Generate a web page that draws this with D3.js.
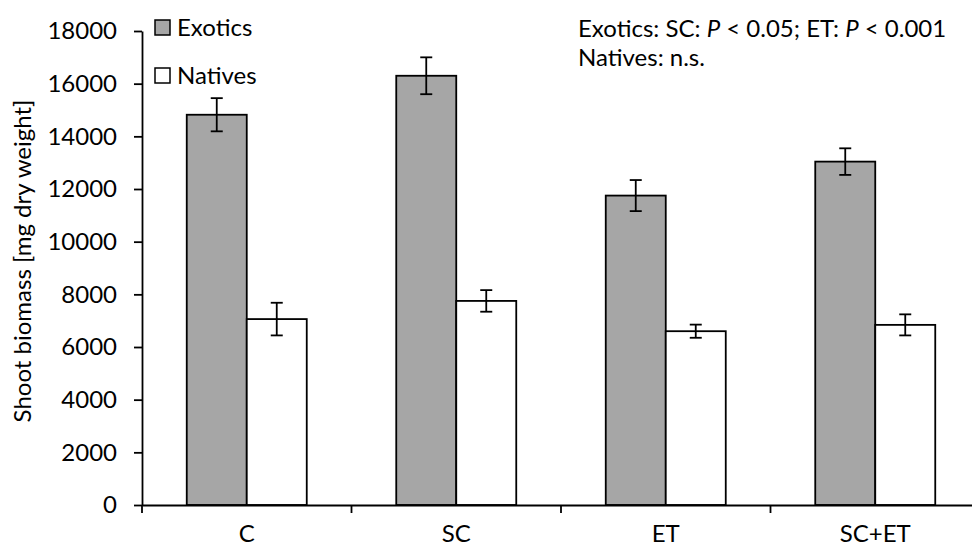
<!DOCTYPE html>
<html>
<head>
<meta charset="utf-8">
<script src="https://cdn.jsdelivr.net/npm/d3@7"></script>
<style>
  body { margin: 0; background: #fff; }
  svg { display: block; font-family: Lato, "Noto Sans", sans-serif; }
</style>
</head>
<body>
<figure id="chart" style="margin:0"></figure>
<script>
// data
var categories = ["C", "SC", "ET", "SC+ET"];
var series = ["Exotics", "Natives"];
var exoticsMean = [14820, 16300, 11750, 13040];
var exoticsSE = [630, 700, 590, 505];
var nativesMean = [7060, 7750, 6600, 6840];
var nativesSE = [620, 410, 250, 400];
var yTicks = [0, 2000, 4000, 6000, 8000, 10000, 12000, 14000, 16000, 18000];

var fontSize = 24;

var dimensions = {
    width: 972,
    height: 550,
    margin: { top: 31, right: -8, bottom: 45, left: 142 }
};
dimensions.boundedWidth = dimensions.width - dimensions.margin.left - dimensions.margin.right;
dimensions.boundedHeight = dimensions.height - dimensions.margin.top - dimensions.margin.bottom;

var svg = d3.select("figure#chart")
    .append("svg")
    .attr("width", dimensions.width)
    .attr("height", dimensions.height)
    .append("g")
    .attr("transform", `translate(${dimensions.margin.left}, ${dimensions.margin.top})`);

var xScale = d3.scaleBand()
    .domain(categories)
    .range([0, dimensions.boundedWidth]);

var bw = xScale.bandwidth();
var xSub = d3.scaleBand()
    .domain(series)
    .range([bw * 0.2136, bw * 0.7864]);

var yScale = d3.scaleLinear()
    .domain([0, 18000])
    .range([dimensions.boundedHeight, 0]);

var data = [];
categories.forEach((c, i) => {
    data.push({ cat: c, s: "Exotics", mean: exoticsMean[i], se: exoticsSE[i] });
    data.push({ cat: c, s: "Natives", mean: nativesMean[i], se: nativesSE[i] });
});
var fills = { Exotics: "#a6a6a6", Natives: "#ffffff" };

// bars
svg.selectAll("rect.bar")
    .data(data)
    .enter()
    .append("rect")
    .attr("class", "bar")
    .attr("x", d => xScale(d.cat) + xSub(d.s))
    .attr("y", d => yScale(d.mean))
    .attr("width", xSub.bandwidth())
    .attr("height", d => yScale(0) - yScale(d.mean))
    .attr("fill", d => fills[d.s])
    .attr("stroke", "#000")
    .attr("stroke-width", 1.8);

// error bars
var eb = svg.selectAll("g.err")
    .data(data)
    .enter()
    .append("g")
    .attr("class", "err")
    .attr("transform", d => `translate(${xScale(d.cat) + xSub(d.s) + xSub.bandwidth() / 2}, 0)`)
    .attr("stroke", "#000")
    .attr("stroke-width", 1.8);
eb.append("line").attr("y1", d => yScale(d.mean + d.se)).attr("y2", d => yScale(d.mean - d.se));
eb.append("line").attr("x1", -6).attr("x2", 6).attr("y1", d => yScale(d.mean + d.se)).attr("y2", d => yScale(d.mean + d.se));
eb.append("line").attr("x1", -6).attr("x2", 6).attr("y1", d => yScale(d.mean - d.se)).attr("y2", d => yScale(d.mean - d.se));

// y axis
var yAxis = svg.append("g")
    .call(d3.axisLeft(yScale).tickValues(yTicks).tickFormat(d3.format("d")).tickSize(8).tickSizeOuter(0).tickPadding(17));
yAxis.selectAll("text").attr("font-size", fontSize).attr("fill", "#000").attr("font-family", "Lato, sans-serif");
yAxis.selectAll("line, path").attr("stroke", "#000").attr("stroke-width", 1.8);

// x axis
var xAxis = svg.append("g")
    .attr("transform", `translate(0, ${dimensions.boundedHeight})`)
    .call(d3.axisBottom(xScale).tickSize(0).tickSizeOuter(0).tickPadding(20));
xAxis.selectAll("text").attr("font-size", fontSize).attr("fill", "#000").attr("font-family", "Lato, sans-serif");
xAxis.select("path").attr("stroke", "#000").attr("stroke-width", 1.8);
xAxis.selectAll("line.bound")
    .data(categories.map(c => xScale(c)))
    .enter()
    .append("line")
    .attr("class", "bound")
    .attr("x1", d => d).attr("x2", d => d)
    .attr("y1", 0).attr("y2", 8)
    .attr("stroke", "#000").attr("stroke-width", 1.8);

// y axis title
svg.append("text")
    .attr("transform", `translate(${23 - dimensions.margin.left}, ${dimensions.boundedHeight / 2 - 7}) rotate(-90)`)
    .attr("text-anchor", "middle")
    .attr("dy", "0.35em")
    .attr("font-size", fontSize)
    .text("Shoot biomass [mg dry weight]");

// legend
var legend = svg.selectAll("g.legend")
    .data(series)
    .enter()
    .append("g")
    .attr("class", "legend")
    .attr("transform", (d, i) => `translate(${155 - dimensions.margin.left}, ${20 - dimensions.margin.top + i * 48})`);
legend.append("rect")
    .attr("width", 15).attr("height", 15)
    .attr("fill", d => fills[d])
    .attr("stroke", "#000").attr("stroke-width", 1.5);
legend.append("text")
    .attr("x", 22).attr("y", 16)
    .attr("font-size", fontSize)
    .text(d => d);

// significance note
var note = svg.append("g")
    .attr("transform", `translate(${578 - dimensions.margin.left}, 0)`)
    .attr("font-size", fontSize);
var l1 = note.append("text").attr("y", 37 - dimensions.margin.top);
l1.append("tspan").text("Exotics: SC: ");
l1.append("tspan").attr("font-style", "italic").text("P");
l1.append("tspan").text(" < 0.05; ET: ");
l1.append("tspan").attr("font-style", "italic").text("P");
l1.append("tspan").text(" < 0.001");
note.append("text").attr("y", 66 - dimensions.margin.top).text("Natives: n.s.");
</script>
</body>
</html>
